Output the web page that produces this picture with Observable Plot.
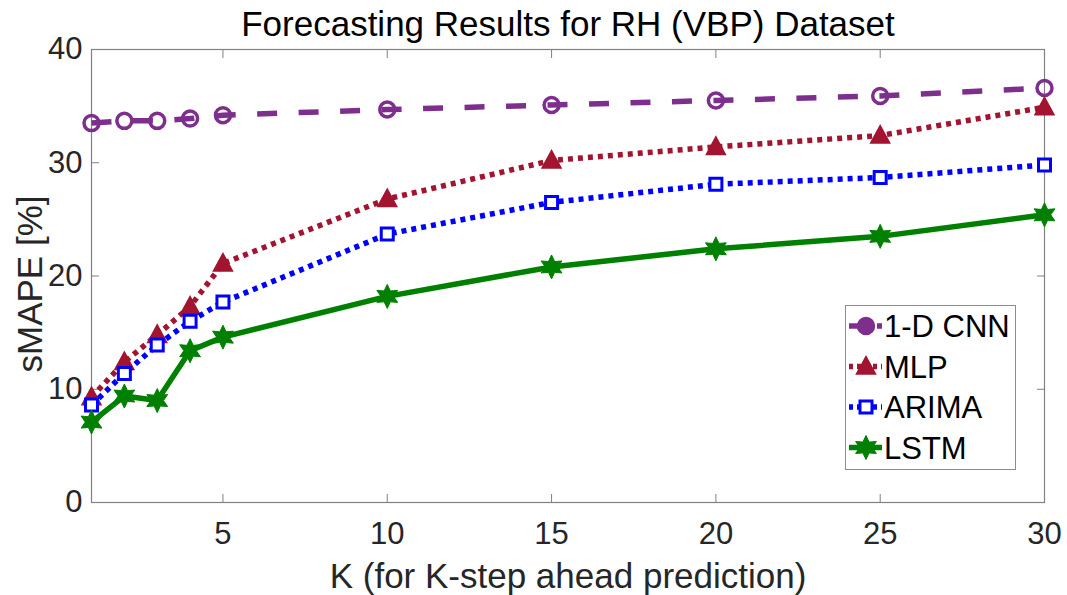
<!DOCTYPE html>
<html><head><meta charset="utf-8">
<script src="https://cdn.jsdelivr.net/npm/d3@7"></script>
<script src="https://cdn.jsdelivr.net/npm/@observablehq/plot@0.6"></script>
<style>
body{margin:0;background:#fff;}
#wrap{position:relative;width:1067px;height:595px;font-family:"Liberation Sans",Arial,sans-serif;}
#legend{position:absolute;left:845px;top:305px;}
</style></head><body><div id="wrap"></div>
<script>
// ---- data ----
const K = [1, 2, 3, 4, 5, 10, 15, 20, 25, 30];
const cnn   = [33.5, 33.7, 33.7, 33.9, 34.2, 34.7, 35.1, 35.5, 35.9, 36.6];
const mlp   = [9.3, 12.4, 14.8, 17.3, 21.1, 26.8, 30.2, 31.4, 32.4, 34.9];
const arima = [8.6, 11.4, 13.9, 16.0, 17.7, 23.7, 26.5, 28.1, 28.7, 29.8];
const lstm  = [7.1, 9.4, 9.0, 13.4, 14.6, 18.2, 20.8, 22.4, 23.5, 25.4];
const seriesNames = ["1-D CNN", "MLP", "ARIMA", "LSTM"];
const xTicks = [5, 10, 15, 20, 25, 30];
const yTicks = [0, 10, 20, 30, 40];
const titleText = "Forecasting Results for RH (VBP) Dataset";
const xLabel = "K (for K-step ahead prediction)";
const yLabel = "sMAPE [%]";

// ---- custom symbols ----
const hexagram = {draw(ctx, size) {
  const R = Math.sqrt(size / Math.PI), r = R * 0.52;
  for (let i = 0; i < 12; i++) {
    const a = -Math.PI / 2 + i * Math.PI / 6, rr = i % 2 ? r : R;
    const x = rr * Math.cos(a), y = rr * Math.sin(a);
    i ? ctx.lineTo(x, y) : ctx.moveTo(x, y);
  }
  ctx.closePath();
}};
const tri = {draw(ctx, size) {
  const R = Math.sqrt(size / Math.PI);
  ctx.moveTo(0, -R); ctx.lineTo(R * 0.95, R * 0.75); ctx.lineTo(-R * 0.95, R * 0.75); ctx.closePath();
}};
const sq = {draw(ctx, size) {
  const R = Math.sqrt(size / Math.PI);
  ctx.moveTo(-R, -R); ctx.lineTo(R, -R); ctx.lineTo(R, R); ctx.lineTo(-R, R); ctx.closePath();
}};

const styles = [
  {values: cnn,   color: "#7E2F8E", dash: "20,21.5", symbol: "circle", r: 7.5, fill: "none",    sw: 3.5},
  {values: mlp,   color: "#A2142F", dash: "5,5",     symbol: tri,      r: 10,  fill: "#A2142F", sw: 1.5},
  {values: arima, color: "#0000FF", dash: "5,5",     symbol: sq,       r: 6,   fill: "white",   sw: 3},
  {values: lstm,  color: "#008000", dash: null,      symbol: hexagram, r: 12,  fill: "#008000", sw: 1}
];

const marks = [];
styles.forEach((s, si) => {
  const data = K.map((k, i) => ({k, v: s.values[i], name: seriesNames[si]}));
  marks.push(Plot.line(data, {x: "k", y: "v", stroke: s.color, strokeWidth: 5.5,
    strokeDasharray: s.dash || undefined, strokeLinecap: "butt", strokeLinejoin: "miter"}));
  marks.push(Plot.dot(data, {x: "k", y: "v", symbol: s.symbol, r: s.r, fill: s.fill,
    stroke: s.color, strokeWidth: s.sw}));
});

const axisStroke = "#808080";
const chart = Plot.plot({
  width: 1067, height: 595,
  marginLeft: 91, marginRight: 23, marginTop: 49, marginBottom: 93,
  style: {fontFamily: '"Liberation Sans", Arial, sans-serif', fontSize: "31px", color: "#262626", background: "white", overflow: "visible"},
  x: {domain: [1, 30]},
  y: {domain: [0, 40]},
  marks: [
    Plot.axisX(xTicks, {anchor: "bottom", tickSize: -8, tickPadding: 27, stroke: axisStroke, fill: "#262626", label: null}),
    Plot.axisX(xTicks, {anchor: "top", tickSize: -8, tickFormat: () => "", stroke: axisStroke, label: null}),
    Plot.axisY(yTicks, {anchor: "left", tickSize: -8, tickPadding: 17, stroke: axisStroke, fill: "#262626", label: null}),
    Plot.axisY(yTicks, {anchor: "right", tickSize: -8, tickFormat: () => "", stroke: axisStroke, label: null}),
    Plot.frame({stroke: axisStroke, strokeWidth: 1.2}),
    ...marks,
    Plot.text([titleText], {frameAnchor: "top", dy: -25, lineAnchor: "middle", textAnchor: "middle", fill: "black", fontSize: 35}),
    Plot.text([xLabel], {frameAnchor: "bottom", dy: 74, lineAnchor: "middle", textAnchor: "middle", fill: "#262626", fontSize: 35}),
    Plot.text([yLabel], {frameAnchor: "left", dx: -61, dy: 8, rotate: -90, lineAnchor: "middle", textAnchor: "middle", fill: "#262626", fontSize: 35})
  ]
});
document.getElementById("wrap").appendChild(chart);

// ---- legend ----
const lg = d3.select("#wrap").append("svg").attr("id", "legend")
  .attr("width", 172).attr("height", 166)
  .style("font-family", '"Liberation Sans", Arial, sans-serif');
lg.append("rect").attr("x", 0.5).attr("y", 0.5).attr("width", 170).attr("height", 164)
  .attr("fill", "white").attr("stroke", "#8c8c8c").attr("stroke-width", 1);
const symTypes = [d3.symbolCircle, tri, sq, hexagram];
styles.forEach((s, i) => {
  const cy = 21 + i * 40.5;
  lg.append("line").attr("x1", 4).attr("x2", 37).attr("y1", cy).attr("y2", cy)
    .attr("stroke", s.color).attr("stroke-width", 5.5)
    .attr("stroke-dasharray", s.dash ? (i === 0 ? "10,4" : "4,4") : null);
  lg.append("path").attr("transform", `translate(21,${cy})`)
    .attr("d", d3.symbol(symTypes[i], Math.PI * s.r * s.r)())
    .attr("fill", i === 0 ? s.color : s.fill).attr("stroke", s.color).attr("stroke-width", s.sw);
  lg.append("text").attr("x", 39).attr("y", cy + 11).attr("font-size", 31).attr("fill", "black")
    .text(seriesNames[i]);
});
</script></body></html>
